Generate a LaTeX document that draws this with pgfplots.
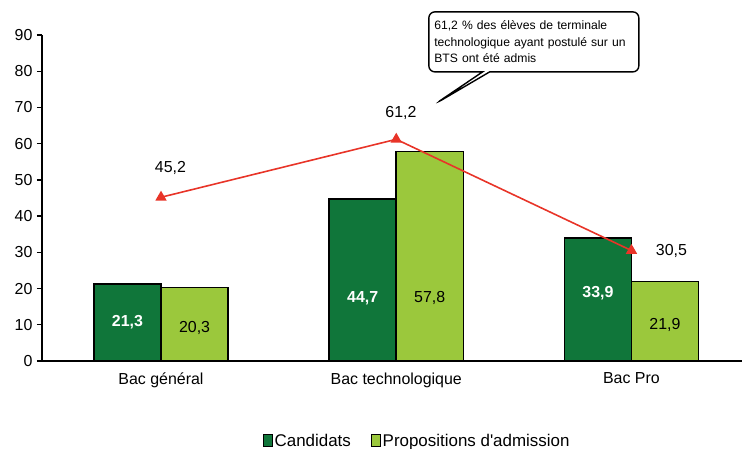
\documentclass[border=0pt]{standalone}
\usepackage{pgfplots}
\pgfplotsset{compat=1.18}
\usepackage{fontspec}
\setmainfont{Liberation Sans}
\usetikzlibrary{shapes.callouts}
\definecolor{dkgreen}{RGB}{16,118,58}
\definecolor{ltgreen}{RGB}{155,200,60}
\definecolor{redl}{RGB}{232,52,40}
\begin{document}
\begin{tikzpicture}
\begin{axis}[
  scale only axis,
  width=700bp, height=326bp,
  xmin=-0.506, xmax=2.47,
  ymin=0, ymax=90,
  ytick={0,10,...,90},
  xtick={0,1,2},
  xticklabels={Bac général,Bac technologique,Bac Pro},
  extra x ticks={0.5,1.5},
  extra x tick labels={},
  extra x tick style={major tick length=6bp, tick style={line width=1.2pt,black}},
  axis lines*=left,
  axis line style={line width=1.8pt, black},
  x axis line style={-},
  y axis line style={-},
  tick align=outside,
  major tick length=5bp,
  tick style={line width=1.3pt, black},
  xtick style={draw=none},
  tick label style={font=\fontsize{16}{16}\selectfont},
  /pgf/number format/assume math mode=true,
  yticklabel style={xshift=-1bp},
  xticklabel style={yshift=-3bp},
  clip=false,
  legend style={at={(0.536,0)}, anchor=north, yshift=-71bp, draw=none, fill=none, font=\fontsize{17}{17}\selectfont, legend columns=2, /tikz/every even column/.append style={column sep=18bp}, inner sep=0pt},
  legend image code/.code={\draw[#1, draw=black, line width=0.8pt] (1bp,-5bp) rectangle (10bp,7bp);},
  legend cell align=left,
]
\addplot[ybar, bar width=0.285, bar shift=-0.1425, fill=dkgreen, draw=black, line width=1.5pt] coordinates {(0,21.3) (1,44.7) (2,33.9)};
\addlegendentry{Candidats}
\addplot[ybar, bar width=0.285, bar shift=0.1425, fill=ltgreen, draw=black, line width=1.5pt] coordinates {(0,20.3) (1,57.8) (2,21.9)};
\addlegendentry{Propositions d\textquotesingle admission}
\addplot[forget plot, sharp plot, redl, line width=1.6pt, mark=triangle*, mark size=5pt, mark options={fill=redl, draw=redl}] coordinates {(0,45.2) (1,61.2) (2,30.5)};
\begin{scope}[font=\fontsize{16}{16}\selectfont]
\node[white, font=\fontsize{16}{16}\selectfont\bfseries] at (axis cs:-0.1425,10.8) {21,3};
\node at (axis cs:0.1425,9.1) {20,3};
\node[white, font=\fontsize{16}{16}\selectfont\bfseries] at (axis cs:0.8575,17.4) {44,7};
\node at (axis cs:1.1425,17.4) {57,8};
\node[white, font=\fontsize{16}{16}\selectfont\bfseries] at (axis cs:1.8575,18.8) {33,9};
\node at (axis cs:2.1425,9.9) {21,9};
\node at (axis cs:0.04,53.3) {45,2};
\node at (axis cs:1.02,68.5) {61,2};
\node at (axis cs:2.17,30.4) {30,5};
\end{scope}
\node[rectangle callout, rounded corners=6bp, draw=black, line width=1.4pt, fill=white,
  minimum width=210bp, minimum height=60bp, align=left, text width=199bp, inner xsep=4.5bp, inner ysep=4bp,
  font=\fontsize{12.2}{16.5}\selectfont,
  callout absolute pointer={(axis cs:1.171,71.2)}]
  at (axis cs:1.585,88.1)
  {61,2 \% des élèves de terminale\\technologique ayant postulé sur un\\BTS ont été admis};
\end{axis}
\pgfresetboundingbox
\path ([xshift=-42bp,yshift=-88bp]current axis.south west) rectangle ([xshift=2bp,yshift=35bp]current axis.north east);
\end{tikzpicture}
\end{document}
